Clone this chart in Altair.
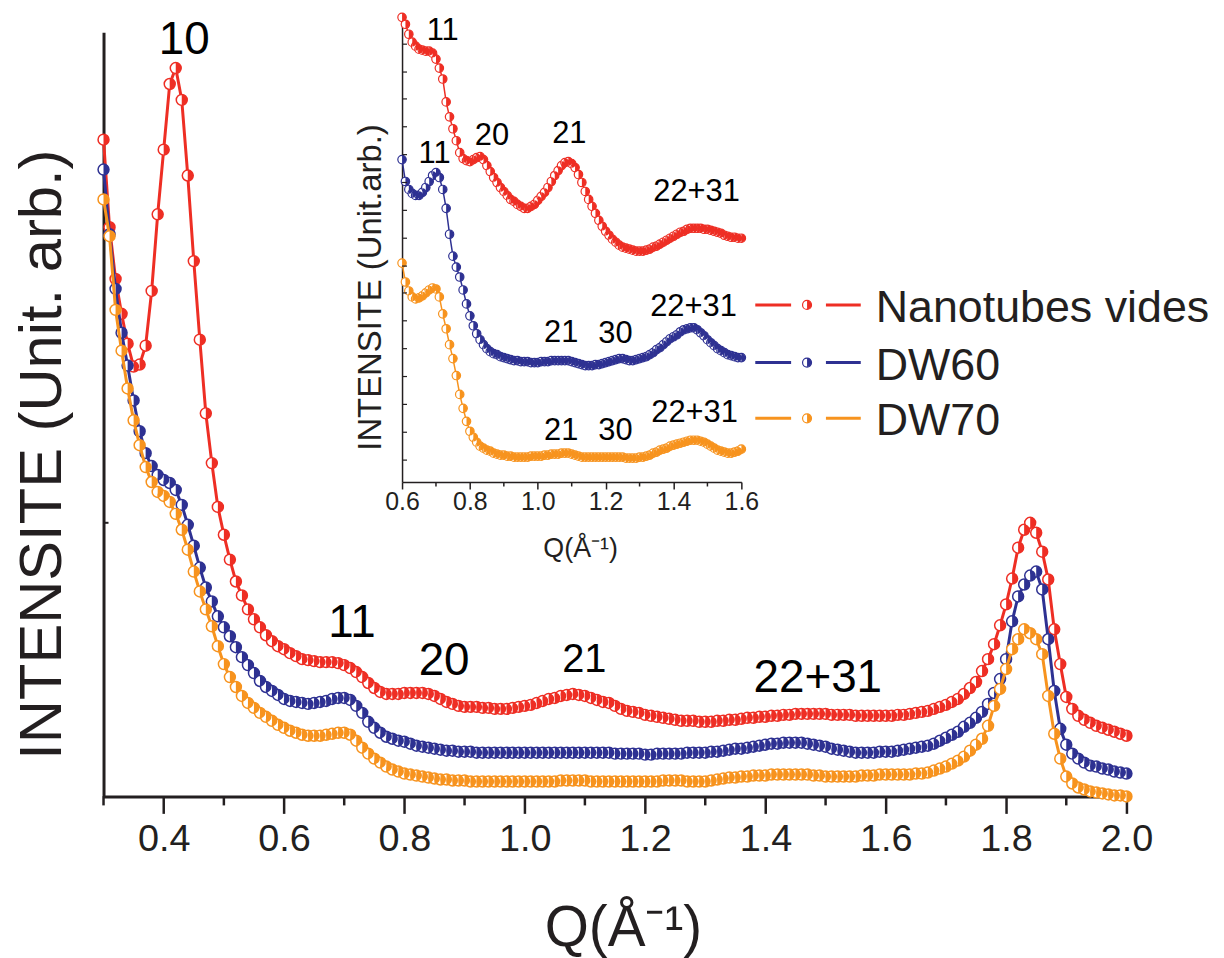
import altair as alt
import pandas as pd

SERIES = ["Nanotubes vides", "DW60", "DW70"]
COLORS = ["#EE2E24", "#2E3192", "#F7931E"]
INK = "#231F20"
FONT = "Liberation Sans"

# ---- main plot data (Q step 0.01 from 0.30 to 2.00, intensity in arbitrary units)
MAIN_Q = [round(0.30 + 0.01 * i, 2) for i in range(171)]
MAIN_RED = [
    660, 572, 520, 485, 455, 432, 434, 453, 508, 585,
    650, 716, 732, 700, 624, 538, 459, 385, 335, 291,
    263, 238, 216, 202, 188, 178, 170, 162, 156, 151,
    148, 144, 141, 138, 137, 136, 135, 135, 135, 134,
    132, 129, 125, 120, 114, 109, 105, 103, 103, 103,
    104, 104, 104, 104, 103, 101, 98, 95, 93, 91,
    90, 90, 90, 89, 89, 88, 88, 88, 89, 90,
    91, 92, 94, 96, 98, 99, 101, 102, 103, 102,
    101, 99, 97, 95, 94, 91, 88, 86, 85, 84,
    82, 81, 80, 79, 78, 77, 76, 76, 76, 75,
    75, 75, 76, 76, 77, 77, 78, 79, 79, 80,
    80, 81, 81, 82, 82, 83, 83, 83, 83, 83,
    83, 82, 82, 82, 82, 81, 81, 81, 81, 81,
    81, 81, 82, 82, 83, 84, 85, 86, 88, 90,
    92, 95, 98, 103, 109, 115, 126, 138, 153, 172,
    193, 219, 250, 268, 275, 265, 246, 218, 168, 133,
    100, 88, 81, 77, 74, 71, 69, 67, 65, 63,
    61,
]
MAIN_BLUE = [
    630, 565, 510, 466, 433, 398, 367, 345, 332, 323,
    318, 315, 308, 293, 273, 252, 230, 210, 196, 181,
    170, 161, 150, 140, 132, 124, 116, 110, 106, 102,
    98, 96, 95, 94, 93, 94, 95, 96, 98, 99,
    99, 97, 91, 84, 75, 69, 64, 60, 58, 56,
    55, 53, 51, 50, 49, 48, 47, 46, 46, 45,
    45, 45, 44, 44, 44, 44, 44, 44, 44, 44,
    44, 44, 44, 44, 44, 44, 44, 44, 44, 44,
    44, 44, 44, 44, 44, 43, 43, 43, 43, 43,
    42, 42, 43, 43, 43, 43, 43, 44, 44, 44,
    44, 45, 45, 46, 47, 48, 48, 49, 50, 51,
    52, 53, 53, 54, 54, 54, 54, 53, 52, 51,
    50, 48, 47, 46, 45, 44, 44, 44, 44, 45,
    45, 45, 46, 47, 48, 49, 50, 51, 53, 56,
    59, 62, 65, 70, 74, 79, 85, 93, 104, 118,
    138, 176, 201, 213, 222, 226, 208, 158, 106, 68,
    52, 43, 38, 34, 31, 30, 28, 27, 25, 24,
    23,
]
MAIN_ORANGE = [
    600, 563, 489, 448, 410, 378, 353, 331, 316, 306,
    302, 296, 284, 268, 248, 226, 206, 188, 171, 151,
    133, 120, 110, 101, 94, 89, 84, 80, 76, 72,
    69, 66, 64, 62, 61, 61, 61, 62, 63, 64,
    64, 62, 56, 49, 43, 38, 34, 30, 27, 25,
    23, 22, 21, 20, 19, 18, 17, 17, 16, 16,
    16, 15, 15, 15, 15, 15, 15, 15, 15, 15,
    15, 15, 15, 15, 15, 15, 16, 16, 16, 16,
    16, 15, 15, 15, 15, 15, 15, 15, 15, 15,
    15, 15, 15, 16, 16, 16, 16, 15, 15, 15,
    15, 16, 17, 18, 19, 19, 20, 20, 21, 21,
    21, 22, 22, 22, 22, 22, 22, 22, 21, 21,
    20, 20, 20, 20, 20, 20, 21, 21, 21, 22,
    22, 22, 22, 22, 22, 23, 23, 24, 26, 28,
    30, 33, 36, 40, 46, 52, 58, 71, 91, 108,
    128, 148, 158, 168, 164, 158, 143, 101, 63, 38,
    20, 13, 9, 7, 5, 4, 3, 2, 1, 1,
    0,
]

# ---- inset data (Q step 0.01 from 0.60 to 1.60)
INSET_Q = [round(0.60 + 0.01 * i, 2) for i in range(101)]
INSET_RED = [
    467, 460, 450, 442, 438, 435, 434, 433, 433, 431,
    425, 416, 405, 382, 367, 355, 343, 331, 325, 323,
    322, 324, 326, 327, 324, 318, 312, 306, 301, 296,
    292, 288, 284, 282, 279, 277, 275, 275, 277, 279,
    283, 287, 291, 296, 302, 308, 313, 318, 321, 322,
    320, 316, 309, 301, 292, 284, 277, 270, 263, 257,
    252, 248, 244, 241, 238, 236, 235, 234, 233, 232,
    232, 232, 233, 234, 236, 237, 239, 241, 243, 245,
    247, 249, 251, 252, 254, 255, 255, 255, 255, 254,
    254, 253, 252, 251, 250, 248, 247, 246, 246, 245,
    245,
]
INSET_BLUE = [
    324, 302, 294, 290, 288, 288, 291, 296, 302, 308,
    311, 306, 294, 275, 249, 227, 216, 206, 193, 179,
    167, 157, 149, 143, 138, 134, 131, 129, 128, 126,
    125, 124, 123, 122, 122, 121, 121, 121, 120, 120,
    120, 121, 121, 121, 122, 122, 122, 122, 122, 122,
    121, 120, 119, 118, 117, 117, 117, 118, 118, 119,
    120, 121, 122, 123, 124, 124, 123, 122, 122, 123,
    124, 125, 126, 128, 130, 133, 135, 138, 141, 144,
    146, 148, 151, 153, 154, 155, 155, 153, 150, 147,
    143, 140, 137, 134, 132, 130, 128, 127, 126, 125,
    125,
]
INSET_ORANGE = [
    220, 201, 192, 186, 184, 185, 187, 190, 193, 195,
    194, 186, 169, 154, 138, 124, 107, 88, 74, 61,
    51, 45, 40, 36, 34, 32, 31, 29, 28, 27,
    27, 26, 26, 25, 25, 25, 25, 25, 26, 26,
    26, 26, 27, 27, 28, 28, 28, 29, 29, 29,
    28, 27, 26, 25, 25, 25, 25, 25, 25, 25,
    25, 25, 25, 25, 25, 25, 24, 24, 24, 24,
    25, 25, 26, 27, 29, 30, 32, 33, 34, 36,
    37, 38, 39, 40, 41, 42, 42, 42, 41, 40,
    38, 36, 34, 32, 31, 30, 29, 29, 30, 31,
    33,
]

# ---- ticks
MAIN_TICKS = [0.4, 0.6, 0.8, 1.0, 1.2, 1.4, 1.6, 1.8, 2.0]
MAIN_MINOR = [0.3, 0.5, 0.7, 0.9, 1.1, 1.3, 1.5, 1.7, 1.9]
MAIN_Y_TICKS = [275]
INSET_TICKS = [0.6, 0.8, 1.0, 1.2, 1.4, 1.6]
INSET_MINOR = [0.7, 0.9, 1.1, 1.3, 1.5]
INSET_Y_TICKS = [22, 50, 78, 106, 134, 162, 190, 217, 245, 273, 301, 329, 357, 385, 412, 440]

# ---- peak annotations
MAIN_LABELS = ["10", "11", "20", "21", "22+31"]
MAIN_LABEL_Q = [0.434, 0.713, 0.866, 1.099, 1.487]
MAIN_LABEL_V = [760, 174, 136, 137, 119]
MAIN_LABEL_SIZE = [46, 46, 46, 40, 46]

INSET_LABELS = ["11", "20", "21", "22+31", "11", "21", "30", "22+31", "21", "30", "22+31"]
INSET_LABEL_Q = [0.720, 0.865, 1.093, 1.468, 0.696, 1.069, 1.229, 1.459, 1.069, 1.229, 1.462]
INSET_LABEL_V = [453, 348, 350, 291, 330, 150, 149, 176, 51, 51, 69]

HALF = "M0,-1A1,1,0,0,1,0,1Z"

# ---------------- main plot ----------------
main_xs = alt.Scale(domain=[0.3, 2.0], nice=False, zero=False)
main_ys = alt.Scale(domain=[0, 768], nice=False, zero=False)
main_x = alt.X(
    "q:Q", scale=main_xs,
    axis=alt.Axis(
        values=MAIN_TICKS, format=".1f", tickSize=17, tickWidth=2.5, labelFontSize=38,
        labelPadding=7, labelFlush=False, labelOverlap=False, domainWidth=3,
        title="Q(Å⁻¹)", titleFontSize=57, titleX=522, titleY=150,
        titleBaseline="alphabetic", titleAlign="center",
    ),
)
main_y = alt.Y(
    "v:Q", scale=main_ys,
    axis=alt.Axis(
        labels=False, ticks=False, domainWidth=3,
        title="INTENSITE (Unit. arb.)", titleFontSize=60, titleAngle=270,
        titleX=-43, titleY=424, titleBaseline="alphabetic", titleAlign="center",
    ),
)


def series_layers(df, color, xe, ye, lw, size, sw):
    line = alt.Chart(df).mark_line(color=color, strokeWidth=lw).encode(x=xe, y=ye)
    ring = alt.Chart(df).mark_point(
        shape="circle", filled=True, fill="white", stroke=color,
        strokeWidth=sw, size=size, opacity=1,
    ).encode(x=xe, y=ye)
    half = alt.Chart(df).mark_point(
        shape=HALF, filled=True, fill=color, strokeWidth=0, size=size, opacity=1,
    ).encode(x=xe, y=ye)
    return [line, ring, half]


main_layers = []
for vals, color in zip([MAIN_RED, MAIN_BLUE, MAIN_ORANGE], COLORS):
    df = pd.DataFrame({"q": MAIN_Q, "v": vals})
    main_layers += series_layers(df, color, main_x, main_y, 3, 121, 1.5)

main_layers.append(
    alt.Chart(pd.DataFrame({"q": MAIN_MINOR})).mark_rule(color=INK, strokeWidth=2.5).encode(
        x=main_x, y=alt.value(768), y2=alt.value(777)
    )
)
main_layers.append(
    alt.Chart(pd.DataFrame({"v": MAIN_Y_TICKS})).mark_rule(color=INK, strokeWidth=2).encode(
        y=main_y, x=alt.value(0), x2=alt.value(5)
    )
)
mlab = pd.DataFrame({"t": MAIN_LABELS, "q": MAIN_LABEL_Q, "v": MAIN_LABEL_V, "fs": MAIN_LABEL_SIZE})
main_layers.append(
    alt.Chart(mlab).mark_text(font=FONT, color="black", baseline="middle", align="center").encode(
        x=main_x, y=main_y, text="t:N",
        size=alt.Size("fs:Q", scale=None, legend=None),
    )
)
main = alt.layer(*main_layers)

# ---------------- inset ----------------
in_xs = alt.Scale(domain=[0.6, 1.6], range=[300, 641], nice=False, zero=False)
in_ys = alt.Scale(domain=[0, 467], range=[452, -15], nice=False, zero=False)
in_x = alt.X(
    "q:Q", scale=in_xs,
    axis=alt.Axis(
        orient="bottom", offset=-316, values=INSET_TICKS, format=".1f", tickSize=7,
        tickWidth=1.5, labelFontSize=25, labelPadding=1, labelFlush=False,
        labelOverlap=False, domainWidth=1.5,
        title="Q(Å⁻¹)", titleFontSize=27, titleX=479, titleY=75,
        titleBaseline="alphabetic", titleAlign="center",
    ),
)
in_y = alt.Y(
    "v:Q", scale=in_ys,
    axis=alt.Axis(
        orient="left", offset=-300, labels=False, ticks=False, domainWidth=1.5,
        title="INTENSITE (Unit.arb.)", titleFontSize=33, titleAngle=270,
        titleX=-22, titleY=256, titleBaseline="alphabetic", titleAlign="center",
    ),
)
inset_layers = []
for vals, color in zip([INSET_RED, INSET_BLUE, INSET_ORANGE], COLORS):
    df = pd.DataFrame({"q": INSET_Q, "v": vals})
    inset_layers += series_layers(df, color, in_x, in_y, 1.5, 72, 1.2)

inset_layers.append(
    alt.Chart(pd.DataFrame({"q": INSET_MINOR})).mark_rule(color=INK, strokeWidth=1.5).encode(
        x=in_x, y=alt.value(452), y2=alt.value(456.5)
    )
)
inset_layers.append(
    alt.Chart(pd.DataFrame({"v": INSET_Y_TICKS})).mark_rule(color=INK, strokeWidth=1.2).encode(
        y=in_y, x=alt.value(300), x2=alt.value(305)
    )
)
ilab = pd.DataFrame({"t": INSET_LABELS, "q": INSET_LABEL_Q, "v": INSET_LABEL_V})
inset_layers.append(
    alt.Chart(ilab).mark_text(font=FONT, color="black", fontSize=31, baseline="middle", align="center").encode(
        x=in_x, y=in_y, text="t:N",
    )
)
inset = alt.layer(*inset_layers)

# ---------------- legend (drawn manually) ----------------
LEGEND_Y = [274, 332, 388]
legend_layers = []
for name, color, ly in zip(SERIES, COLORS, LEGEND_Y):
    base = alt.Chart(pd.DataFrame({"s": [name]}))
    legend_layers += [
        base.mark_rule(color=color, strokeWidth=3).encode(x=alt.value(655), x2=alt.value(691), y=alt.value(ly)),
        base.mark_rule(color=color, strokeWidth=3).encode(x=alt.value(726), x2=alt.value(761), y=alt.value(ly)),
        base.mark_point(shape="circle", filled=True, fill="white", stroke=color, strokeWidth=1.2,
                        size=81, opacity=1).encode(x=alt.value(707), y=alt.value(ly)),
        base.mark_point(shape=HALF, filled=True, fill=color, strokeWidth=0, size=81,
                        opacity=1).encode(x=alt.value(707), y=alt.value(ly)),
        base.mark_text(align="left", baseline="alphabetic", fontSize=45, font=FONT,
                       color=INK).encode(x=alt.value(776), y=alt.value(ly + 17), text="s:N"),
    ]

chart = (
    alt.layer(main, inset, *legend_layers)
    .resolve_scale(x="independent", y="independent")
    .properties(
        width=1028, height=768,
        autosize=alt.AutoSizeParams(type="none"),
        padding={"left": 96, "top": 22, "right": 90, "bottom": 160},
    )
    .configure_view(stroke=None)
    .configure_axis(
        grid=False, domainColor=INK, tickColor=INK, labelColor=INK, titleColor=INK,
        labelFont=FONT, titleFont=FONT, titleFontWeight="normal",
    )
)

chart.save("out.html", embed_options={"renderer": "svg", "actions": False})
